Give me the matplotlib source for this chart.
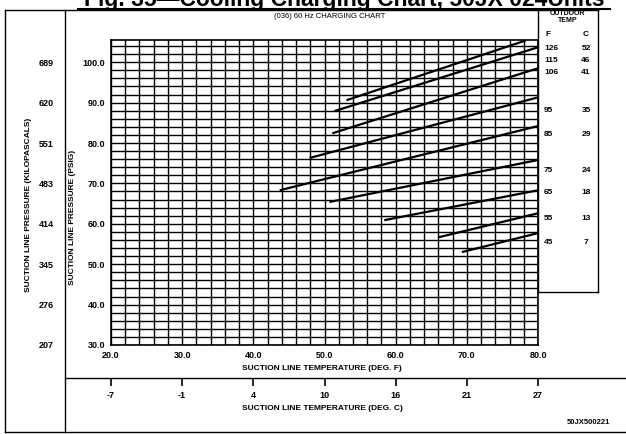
import numpy as np
import matplotlib
matplotlib.use("Agg")
import matplotlib.pyplot as plt
from matplotlib.lines import Line2D

plt.rcParams['font.family'] = ['Liberation Sans', 'DejaVu Sans']

W, H = 626, 434

# --- datos del grafico ---
outdoor_f = [126, 115, 106, 95, 85, 75, 65, 55, 45]
outdoor_c = [52, 46, 41, 35, 29, 24, 18, 13, 7]
# extremos de cada recta (temp. succion F, presion PSIG)
start_t = [53.1, 51.4, 51.1, 47.9, 43.7, 50.7, 58.4, 66.1, 69.3]
start_p = [90.6, 87.9, 82.4, 76.3, 68.3, 65.4, 60.9, 56.7, 53.0]
end_t = [78.3, 80.0, 80.0, 80.0, 80.0, 80.0, 80.0, 80.0, 80.0]
end_p = [105.4, 103.7, 98.5, 91.3, 84.2, 75.8, 68.3, 62.6, 57.7]

temp_f_ticks = [20, 30, 40, 50, 60, 70, 80]
temp_c_labels = ["-7", "-1", "4", "10", "16", "21", "27"]
psig_ticks = [30, 40, 50, 60, 70, 80, 90, 100]
kpa_labels = ["207", "276", "345", "414", "483", "551", "620", "689"]
# posicion vertical (px) de las etiquetas de la tabla de temperatura exterior
legend_rows_px = [48, 60, 72, 110, 135, 170, 193, 218, 242]


def fx(px):
    return px / W


def fy(py):
    return 1 - py / H


fig = plt.figure(figsize=(W / 100, H / 100), dpi=100)

# --- area principal ---
ax = fig.add_axes([fx(111), fy(345), fx(538) - fx(111), fy(40) - fy(345)])
ax.set_xlim(20, 80)
ax.set_ylim(30, 105.5)
ax.set_xticks(np.arange(20, 81, 2), minor=True)
ax.set_yticks(np.arange(30, 106, 2), minor=True)
ax.set_xticks(temp_f_ticks)
ax.set_xticklabels([f"{t:.1f}" for t in temp_f_ticks], fontsize=6.5, fontweight='bold')
ax.set_yticks(psig_ticks)
ax.set_yticklabels([f"{p:.1f}" for p in psig_ticks], fontsize=6.5, fontweight='bold')
ax.tick_params(which='both', length=0, pad=4)
ax.grid(True, which='both', color='black', linewidth=1.0)
for s in ax.spines.values():
    s.set_linewidth(1.2)

for i in range(len(outdoor_f)):
    ax.plot([start_t[i], end_t[i]], [start_p[i], end_p[i]], color='black', lw=1.6,
            solid_capstyle='butt', clip_on=False)

fig.text(fx(322), fy(368), "SUCTION LINE TEMPERATURE (DEG. F)", ha='center', va='center',
         fontsize=6, fontweight='bold')
fig.text(fx(73), fy(217), "SUCTION LINE PRESSURE (PSIG)", ha='center', va='center',
         rotation=90, fontsize=6, fontweight='bold')
fig.text(fx(29), fy(205), "SUCTION LINE PRESSURE (KILOPASCALS)", ha='center', va='center',
         rotation=90, fontsize=6, fontweight='bold')

# kPa a la izquierda
ax_k = fig.add_axes([fx(46), fy(345), 0.0001, fy(40) - fy(345)])
ax_k.set_ylim(30, 105.5)
ax_k.set_xticks([])
ax_k.set_yticks(psig_ticks)
ax_k.set_yticklabels(kpa_labels, fontsize=6.5, fontweight='bold')
ax_k.tick_params(length=0, pad=0)
for s in ax_k.spines.values():
    s.set_visible(False)
for lab in ax_k.get_yticklabels():
    lab.set_ha('center')

# eje en grados C
ax_c = fig.add_axes([fx(111), fy(378), fx(538) - fx(111), 0.0001])
ax_c.set_xlim(20, 80)
ax_c.set_yticks([])
ax_c.set_xticks(temp_f_ticks)
ax_c.set_xticklabels(temp_c_labels, fontsize=6.5, fontweight='bold')
ax_c.tick_params(axis='x', direction='out', length=6, width=1.2, pad=3)
for s in ax_c.spines.values():
    s.set_visible(False)
fig.text(fx(322), fy(409), "SUCTION LINE TEMPERATURE (DEG. C)", ha='center', va='center',
         fontsize=6, fontweight='bold')

# --- marcos ---
frame = [
    ((5, 5), (10, 432)),
    ((65, 65), (10, 432)),
    ((5, 598), (10, 10)),
    ((5, 626), (432, 432)),
    ((65, 626), (378, 378)),
    ((538, 538), (10, 292)),
    ((598, 598), (10, 292)),
    ((538, 598), (292, 292)),
]
for (xs, ys) in frame:
    fig.add_artist(Line2D([fx(v) for v in xs], [fy(v) for v in ys], color='black', lw=1.0,
                          transform=fig.transFigure))

# --- titulo (cortado arriba como en el original) ---
fig.text(fx(344), fy(6), "Fig. 35\u2014Cooling Charging Chart, 50JX 024Units", ha='center',
         va='baseline', fontsize=16.5, fontweight='bold')
fig.add_artist(Line2D([fx(78), fx(610)], [fy(8.5), fy(8.5)], color='black', lw=1.5,
                      transform=fig.transFigure))
fig.text(fx(330), fy(16), "(036) 60 Hz CHARGING CHART", ha='center', va='center', fontsize=5.5)

# --- tabla temperatura exterior ---
fig.text(fx(568), fy(17), "OUTDOOR\nTEMP", ha='center', va='center', fontsize=5,
         fontweight='bold', linespacing=0.85)
fig.text(fx(546), fy(35), "F", ha='left', va='center', fontsize=6, fontweight='bold')
fig.text(fx(586), fy(35), "C", ha='center', va='center', fontsize=6, fontweight='bold')
for f, c, py in zip(outdoor_f, outdoor_c, legend_rows_px):
    fig.text(fx(544), fy(py), str(f), ha='left', va='center', fontsize=6, fontweight='bold')
    fig.text(fx(586), fy(py), str(c), ha='center', va='center', fontsize=6, fontweight='bold')

fig.text(fx(588), fy(422), "50JX500221", ha='center', va='center', fontsize=5.5, fontweight='bold')

fig.savefig("out.png", dpi=100)
